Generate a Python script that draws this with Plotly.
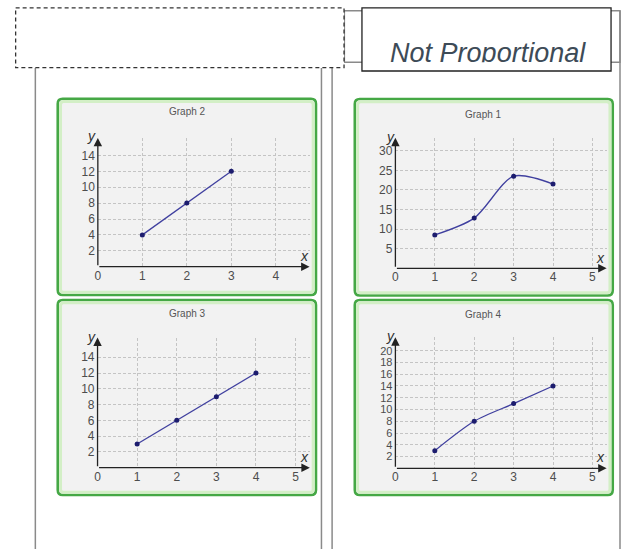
import plotly.graph_objects as go

W, H = 621, 549

# ---------------- data ----------------
graph1_x = [1, 2, 3, 4]
graph1_y = [8.5, 12.8, 23.5, 21.5]
graph2_x = [1, 2, 3]
graph2_y = [4, 8, 12]
graph3_x = [1, 2, 3, 4]
graph3_y = [3, 6, 9, 12]
graph4_x = [1, 2, 3, 4]
graph4_y = [3, 8, 11, 14]

g1_xticks = [0, 1, 2, 3, 4, 5]
g1_yticks = [5, 10, 15, 20, 25, 30]
g2_xticks = [0, 1, 2, 3, 4]
g2_yticks = [2, 4, 6, 8, 10, 12, 14]
g3_xticks = [0, 1, 2, 3, 4, 5]
g3_yticks = [2, 4, 6, 8, 10, 12, 14]
g4_xticks = [0, 1, 2, 3, 4, 5]
g4_yticks = [2, 4, 6, 8, 10, 12, 14, 16, 18, 20]

titles = ["Graph 2", "Graph 1", "Graph 3", "Graph 4"]
header_text = "Not Proportional"


def px(x):
    return x / W


def py(y):
    return 1 - y / H


def rrect(x0, y0, x1, y1, r):
    rx, ry = r / W, r / H
    X0, X1 = px(x0), px(x1)
    Y0, Y1 = py(y0), py(y1)  # Y0 top (larger), Y1 bottom
    return (f"M {X0+rx},{Y0} L {X1-rx},{Y0} Q {X1},{Y0} {X1},{Y0-ry} "
            f"L {X1},{Y1+ry} Q {X1},{Y1} {X1-rx},{Y1} L {X0+rx},{Y1} "
            f"Q {X0},{Y1} {X0},{Y1+ry} L {X0},{Y0-ry} Q {X0},{Y0} {X0+rx},{Y0} Z")


# geometry (pixels) for each graph
geo = [
    dict(x=graph2_x, y=graph2_y, xt=g2_xticks, yt=g2_yticks, shape="linear",
         ox=95.3, oy=266.7, ux=44.7, uy=7.95, xmax=4.76, ymax=16.2, yfs=12,
         tpos=(185, 111.7), xl=(303, 256), yl=(89.3, 135.7),
         panel=(55, 98.7, 314.5, 295)),
    dict(x=graph1_x, y=graph1_y, xt=g1_xticks, yt=g1_yticks, shape="spline",
         ox=394.3, oy=268.3, ux=39.6, uy=3.92, xmax=5.36, ymax=33.3, yfs=12,
         tpos=(483, 114), xl=(600.7, 258.3), yl=(389.3, 136.7),
         panel=(353.5, 99, 612.7, 295.5)),
    dict(x=graph3_x, y=graph3_y, xt=g3_xticks, yt=g3_yticks, shape="linear",
         ox=95, oy=467.7, ux=39.8, uy=7.89, xmax=5.36, ymax=16.5, yfs=12,
         tpos=(185, 313.3), xl=(302.7, 457.3), yl=(89.3, 336.7),
         panel=(55, 300, 314.5, 495)),
    dict(x=graph4_x, y=graph4_y, xt=g4_xticks, yt=g4_yticks, shape="spline",
         ox=394.3, oy=468.3, ux=39.6, uy=5.88, xmax=5.36, ymax=22.3, yfs=11,
         tpos=(483, 314), xl=(600.7, 457.3), yl=(389.3, 335.7),
         panel=(353.5, 300, 612.7, 495)),
]

fig = go.Figure()
layout = dict(
    width=W, height=H, margin=dict(l=0, r=0, t=0, b=0),
    paper_bgcolor="white", plot_bgcolor="rgba(0,0,0,0)",
    showlegend=False, shapes=[], annotations=[],
)

# background frame lines
GRAY = "#8a8a8a"
for xline, ytop in [(32.5, 68), (320, 68), (330.7, 68), (620, 10.7)]:
    layout["shapes"].append(dict(type="line", xref="paper", yref="paper",
                                 x0=px(xline), x1=px(xline), y0=py(ytop), y1=py(549),
                                 line=dict(color=GRAY, width=1.5), layer="below"))
layout["shapes"].append(dict(type="rect", xref="paper", yref="paper",
                             x0=px(343), x1=px(620), y0=py(10.7), y1=py(62.3),
                             line=dict(color=GRAY, width=1.5), layer="below"))
# Not Proportional box
layout["shapes"].append(dict(type="rect", xref="paper", yref="paper",
                             x0=px(360.7), x1=px(611), y0=py(7.8), y1=py(71),
                             line=dict(color="#222222", width=1.3), fillcolor="white",
                             layer="below"))
# dashed box
layout["shapes"].append(dict(type="rect", xref="paper", yref="paper",
                             x0=px(12.7), x1=px(342.7), y0=py(7.8), y1=py(67.7),
                             line=dict(color="#333333", width=1.3, dash="4px,3px"),
                             fillcolor="white", layer="below"))

for i, g in enumerate(geo):
    k = i + 1
    xa = "x" if k == 1 else f"x{k}"
    ya = "y" if k == 1 else f"y{k}"
    x0, y0, x1, y1 = g["panel"]
    layout["shapes"].append(dict(type="path", xref="paper", yref="paper",
                                 path=rrect(x0, y0, x1, y1, 5),
                                 line=dict(color="#45a845", width=2.6),
                                 fillcolor="#f2f2f2", layer="below"))
    layout["shapes"].append(dict(type="path", xref="paper", yref="paper",
                                 path=rrect(x0 + 2.8, y0 + 2.8, x1 - 2.8, y1 - 2.8, 3),
                                 line=dict(color="#d3efc6", width=3),
                                 layer="below"))

    dx0 = g["ox"]
    dx1 = g["ox"] + g["xmax"] * g["ux"]
    dyb = g["oy"]
    dyt = g["oy"] - g["ymax"] * g["uy"]
    common = dict(showline=False, zeroline=False, ticks="", showgrid=True,
                  gridcolor="#c4c4c4", griddash="3px,2px", gridwidth=1,
                  fixedrange=True)
    layout[("xaxis" if k == 1 else f"xaxis{k}")] = dict(
        domain=[px(dx0), px(dx1)], range=[0, g["xmax"]], tickvals=g["xt"],
        anchor=ya,
        tickfont=dict(family="Liberation Sans", size=12, color="#4d4d4d"),
        **common)
    layout[("yaxis" if k == 1 else f"yaxis{k}")] = dict(
        domain=[py(dyb), py(dyt)], range=[0, g["ymax"]], tickvals=g["yt"],
        anchor=xa, ticklabelstandoff=2,
        tickfont=dict(family="Liberation Sans", size=g["yfs"], color="#4d4d4d"),
        **common)

    fig.add_trace(go.Scatter(
        x=g["x"], y=g["y"], mode="lines+markers", xaxis=xa, yaxis=ya,
        line=dict(color="#40409f", width=1.3, shape=g["shape"], smoothing=0.8),
        marker=dict(color="#1c1c6e", size=5), hoverinfo="skip"))

    # axis arrows
    for (ex, ey) in [(g["xmax"], 0), (0, g["ymax"])]:
        layout["annotations"].append(dict(
            x=ex, y=ey, ax=0, ay=0, xref=xa, yref=ya, axref=xa, ayref=ya,
            text="", showarrow=True, arrowhead=2, arrowsize=1.3, arrowwidth=1.3,
            arrowcolor="#222222", standoff=0, startstandoff=0))

    layout["annotations"].append(dict(
        x=px(g["tpos"][0]), y=py(g["tpos"][1]), xref="paper", yref="paper",
        text=titles[i], showarrow=False, xanchor="center", yanchor="middle",
        font=dict(family="Liberation Sans", size=10, color="#555555")))
    layout["annotations"].append(dict(
        x=px(g["xl"][0]), y=py(g["xl"][1]), xref="paper", yref="paper",
        text="<i>x</i>", showarrow=False, xanchor="center", yanchor="middle",
        font=dict(family="Liberation Sans", size=14, color="#333333")))
    layout["annotations"].append(dict(
        x=px(g["yl"][0]), y=py(g["yl"][1]), xref="paper", yref="paper",
        text="<i>y</i>", showarrow=False, xanchor="center", yanchor="middle",
        font=dict(family="Liberation Sans", size=14, color="#333333")))

# header text clipped by its container (extra invisible subplot)
layout["xaxis5"] = dict(domain=[px(343), px(620)], range=[0, 1], visible=False,
                        anchor="y5", fixedrange=True)
layout["yaxis5"] = dict(domain=[py(62.3), py(10.7)], range=[0, 1], visible=False,
                        anchor="x5", fixedrange=True)
fig.add_trace(go.Scatter(
    x=[(487 - 343) / (620 - 343)], y=[(62.3 - 55.0) / (62.3 - 10.7)],
    xaxis="x5", yaxis="y5", mode="text", text=[header_text],
    textposition="middle center", cliponaxis=True, hoverinfo="skip",
    textfont=dict(family="Liberation Sans", size=27, color="#3d4b57",
                  style="italic")))

fig.update_layout(**layout)
fig.write_html("out.html", config=dict(displayModeBar=False),
               post_script="document.body.style.margin='0';document.body.style.padding='0';")
